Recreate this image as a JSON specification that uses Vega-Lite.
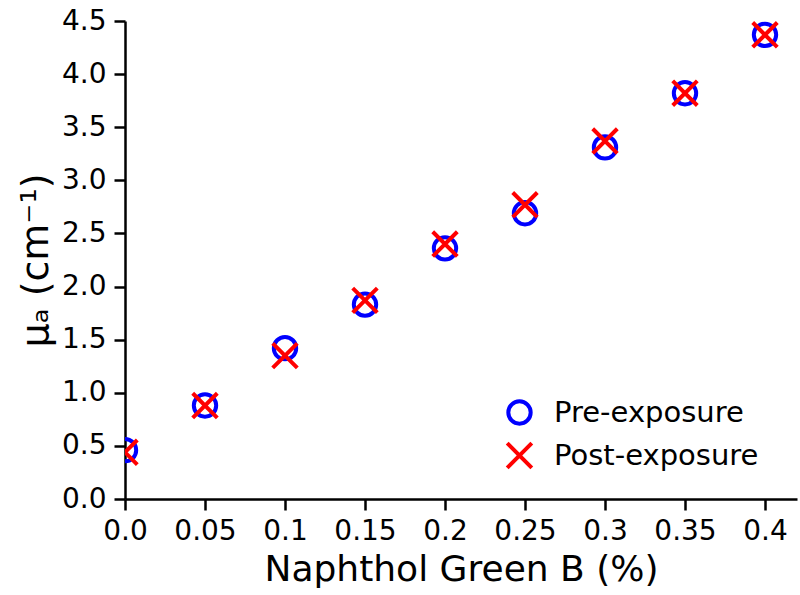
{
  "$schema": "https://vega.github.io/schema/vega-lite/v6.json",
  "autosize": "none",
  "width": 672,
  "height": 478,
  "padding": {"left": 125, "top": 21, "right": 3, "bottom": 96},
  "background": "white",
  "config": {
    "view": {"stroke": null},
    "font": "DejaVu Sans",
    "axis": {
      "domainColor": "black", "domainWidth": 2.5, "tickColor": "black", "tickWidth": 2.5, "tickSize": 11,
      "labelColor": "black", "titleColor": "black", "grid": false, "labelFont": "DejaVu Sans", "titleFont": "DejaVu Sans",
      "titleFontWeight": "normal"
    }
  },
  "data": {
    "values": [
      {"x": 0.0, "y": 0.46, "series": "Pre-exposure"},
      {"x": 0.05, "y": 0.88, "series": "Pre-exposure"},
      {"x": 0.1, "y": 1.42, "series": "Pre-exposure"},
      {"x": 0.15, "y": 1.83, "series": "Pre-exposure"},
      {"x": 0.2, "y": 2.36, "series": "Pre-exposure"},
      {"x": 0.25, "y": 2.69, "series": "Pre-exposure"},
      {"x": 0.3, "y": 3.31, "series": "Pre-exposure"},
      {"x": 0.35, "y": 3.82, "series": "Pre-exposure"},
      {"x": 0.4, "y": 4.37, "series": "Pre-exposure"},
      {"x": 0.0, "y": 0.44, "series": "Post-exposure"},
      {"x": 0.05, "y": 0.88, "series": "Post-exposure"},
      {"x": 0.1, "y": 1.35, "series": "Post-exposure"},
      {"x": 0.15, "y": 1.87, "series": "Post-exposure"},
      {"x": 0.2, "y": 2.40, "series": "Post-exposure"},
      {"x": 0.25, "y": 2.77, "series": "Post-exposure"},
      {"x": 0.3, "y": 3.37, "series": "Post-exposure"},
      {"x": 0.35, "y": 3.82, "series": "Post-exposure"},
      {"x": 0.4, "y": 4.37, "series": "Post-exposure"}
    ]
  },
  "mark": {"type": "point", "filled": false, "strokeWidth": 4, "size": 500, "opacity": 1, "clip": true},
  "encoding": {
    "x": {
      "field": "x", "type": "quantitative",
      "scale": {"domain": [0, 0.42], "nice": false, "zero": false},
      "axis": {
        "title": "Naphthol Green B (%)", "titleFontSize": 36, "titlePadding": 7,
        "values": [0, 0.05, 0.1, 0.15, 0.2, 0.25, 0.3, 0.35, 0.4],
        "labelExpr": "datum.value === 0 ? '0.0' : toString(round(datum.value*100)/100)",
        "labelFontSize": 28, "labelPadding": 7, "labelFlush": false
      }
    },
    "y": {
      "field": "y", "type": "quantitative",
      "scale": {"domain": [0, 4.5], "nice": false},
      "axis": {
        "title": "μₐ (cm⁻¹)", "titleFontSize": 38, "titlePadding": 6,
        "values": [0, 0.5, 1, 1.5, 2, 2.5, 3, 3.5, 4, 4.5],
        "format": ".1f", "labelFontSize": 28, "labelPadding": 8, "labelFlush": false
      }
    },
    "color": {
      "field": "series", "type": "nominal",
      "scale": {"domain": ["Pre-exposure", "Post-exposure"], "range": ["#0000ff", "#ff0000"]},
      "legend": {
        "title": null, "orient": "none", "legendX": 380, "legendY": 377,
        "labelFontSize": 29, "labelFont": "DejaVu Sans", "labelColor": "black", "labelLimit": 0,
        "symbolSize": 500, "symbolStrokeWidth": 4, "rowPadding": 3, "labelOffset": 20
      }
    },
    "shape": {
      "field": "series", "type": "nominal",
      "scale": {"domain": ["Pre-exposure", "Post-exposure"], "range": ["circle", "M-1.1,-1.1L1.1,1.1M-1.1,1.1L1.1,-1.1"]}
    }
  }
}
